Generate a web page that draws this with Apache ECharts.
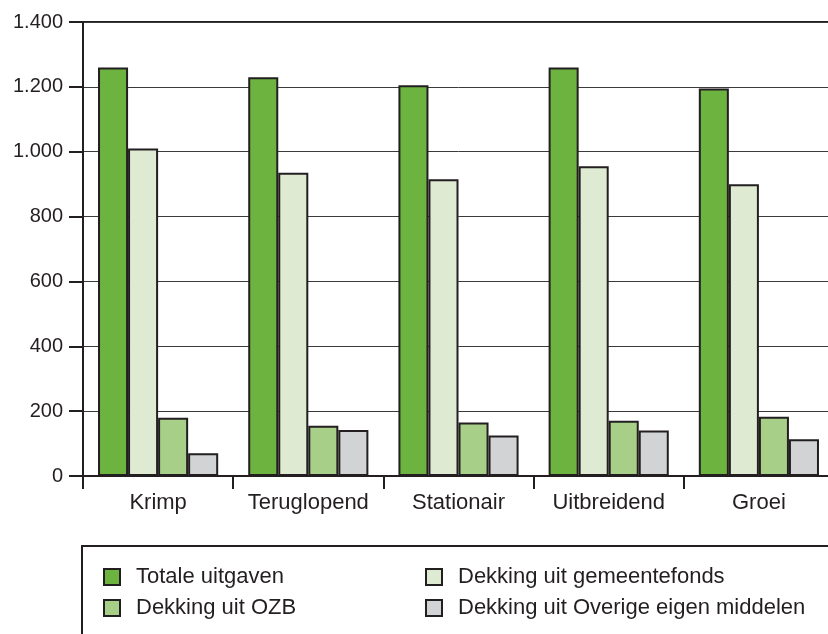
<!DOCTYPE html>
<html>
<head>
<meta charset="utf-8">
<script src="https://cdn.jsdelivr.net/npm/echarts@6/dist/echarts.min.js"></script>
<style>
  html, body { margin: 0; padding: 0; background: #fff; overflow: hidden; }
  /* de figuur loopt rechts iets door buiten het beeld */
  #chart { width: 840px; height: 634px; }
</style>
</head>
<body>
<div id="chart"></div>
<script>
// categorieen en waarden
const categories = ["Krimp", "Teruglopend", "Stationair", "Uitbreidend", "Groei"];
const totaleUitgaven = [1260, 1230, 1205, 1260, 1195];
const gemeentefonds = [1010, 935, 915, 955, 900];
const ozb = [180, 155, 165, 170, 183];
const overige = [70, 142, 125, 140, 113];

const ink = "#231f20";
const font = "Liberation Sans";

const chart = echarts.init(document.getElementById("chart"));

function bar(name, data, color) {
  return {
    name: name,
    type: "bar",
    data: data,
    barGap: "0%",
    barCategoryGap: "20%",
    itemStyle: { color: color, borderColor: ink, borderWidth: 2 },
    emphasis: { disabled: true }
  };
}

const legendBase = {
  orient: "vertical",
  top: 566,
  padding: 0,
  itemGap: 9,
  itemWidth: 16,
  itemHeight: 16,
  icon: "rect",
  selectedMode: false,
  itemStyle: { borderColor: ink, borderWidth: 2 },
  textStyle: { fontFamily: font, fontSize: 22, lineHeight: 22, color: ink, padding: [0, 0, 0, 11] }
};

chart.setOption({
  animation: false,
  grid: {
    left: 83, top: 22, width: 751, bottom: 158,
    show: true, borderColor: ink, borderWidth: 2
  },
  xAxis: {
    type: "category",
    data: categories,
    axisLine: { lineStyle: { color: ink, width: 2 } },
    axisTick: { show: true, interval: 0, length: 13, lineStyle: { color: ink, width: 2 } },
    axisLabel: { interval: 0, fontFamily: font, fontSize: 22, color: ink, margin: 16 }
  },
  yAxis: {
    type: "value",
    min: 0, max: 1400, interval: 200,
    axisLine: { show: true, lineStyle: { color: ink, width: 2 } },
    axisTick: { show: true, length: 14, lineStyle: { color: ink, width: 2 } },
    axisLabel: {
      fontFamily: font, fontSize: 20, color: ink, margin: 20,
      formatter: v => String(v).replace(/\B(?=(\d{3})+(?!\d))/g, ".")
    },
    splitLine: { lineStyle: { color: "#3a3a3a", width: 1 } }
  },
  legend: [
    Object.assign({}, legendBase, { left: 103, data: ["Totale uitgaven", "Dekking uit OZB"] }),
    Object.assign({}, legendBase, { left: 425, data: ["Dekking uit gemeentefonds", "Dekking uit Overige eigen middelen"] })
  ],
  graphic: [{
    type: "rect",
    shape: { x: 82, y: 546, width: 800, height: 200 },
    style: { fill: "none", stroke: ink, lineWidth: 2 },
    silent: true
  }],
  series: [
    bar("Totale uitgaven", totaleUitgaven, "#6db33f"),
    bar("Dekking uit gemeentefonds", gemeentefonds, "#deebd2"),
    bar("Dekking uit OZB", ozb, "#a8cf88"),
    bar("Dekking uit Overige eigen middelen", overige, "#d1d3d4")
  ]
});
</script>
</body>
</html>
